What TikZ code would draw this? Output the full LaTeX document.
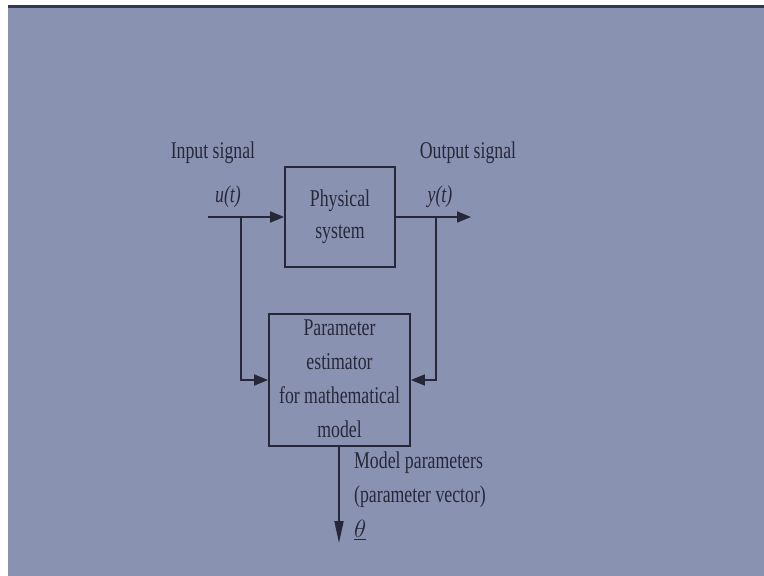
\documentclass[tikz,border=0pt]{standalone}
\usepackage{fontspec}
\setmainfont[FakeStretch=0.74]{Liberation Serif}
\usetikzlibrary{arrows.meta}
\definecolor{slide}{RGB}{138,146,178}
\definecolor{ink}{RGB}{38,40,58}
\definecolor{topline}{RGB}{50,55,80}
\tikzset{
  blk/.style={draw=ink, line width=1.8pt, inner sep=0pt},
  lbl/.style={text=ink, font=\fontsize{24}{28}\selectfont, inner sep=0pt},
  conn/.style={draw=ink, line width=1.8pt},
  arr/.style={conn, -{Triangle[length=14pt,width=11pt]}},
  darr/.style={conn, -{Triangle[length=22pt,width=9pt]}}
}
\begin{document}
\begin{tikzpicture}[x=1pt,y=-1pt]
\useasboundingbox (0,0) rectangle (764,576);
\fill[white] (0,0) rectangle (764,576);
\fill[slide] (8,7) rectangle (764,576);
\fill[topline] (8,5) rectangle (764,8);
% blocks
\node[blk, minimum width=110pt, minimum height=100pt] (phys) at (340,217) {};
\node[lbl, align=center, font=\fontsize{24}{32}\selectfont] (physt) at (340,217) {Physical\\system};
\node[blk, minimum width=141pt, minimum height=132pt] (est) at (339.5,380) {};
\node[lbl, align=center, font=\fontsize{24}{34}\selectfont] (estt) at (339.5,379) {Parameter\\estimator\\for mathematical\\model};
% coordinates
\coordinate (in) at (208,217);
\coordinate (bu) at (241,217);
\coordinate (out) at (471,217);
\coordinate (by) at (436,217);
\coordinate (th) at (339,543);
% connectors
\draw[arr] (in) -- (phys.west);
\draw[arr] (phys.east) -- (out);
\draw[arr] (bu) |- (est.west);
\draw[arr] (by) |- (est.east);
\draw[darr] (est.south -| th) -- (th);
% labels
\node[lbl] (inlab) at (213,153) {Input signal};
\node[lbl] (outlab) at (468,153) {Output signal};
\node[lbl] (ut) at (228,197) {\itshape u(t)};
\node[lbl] (yt) at (440,197) {\itshape y(t)};
\node[lbl, anchor=west] (mp) at (354,463) {Model parameters};
\node[lbl, anchor=west] (pv) at (354,497) {(parameter vector)};
\node[lbl, anchor=west] (theta) at (354,530) {$\underline{\theta}$};
\end{tikzpicture}
\end{document}
